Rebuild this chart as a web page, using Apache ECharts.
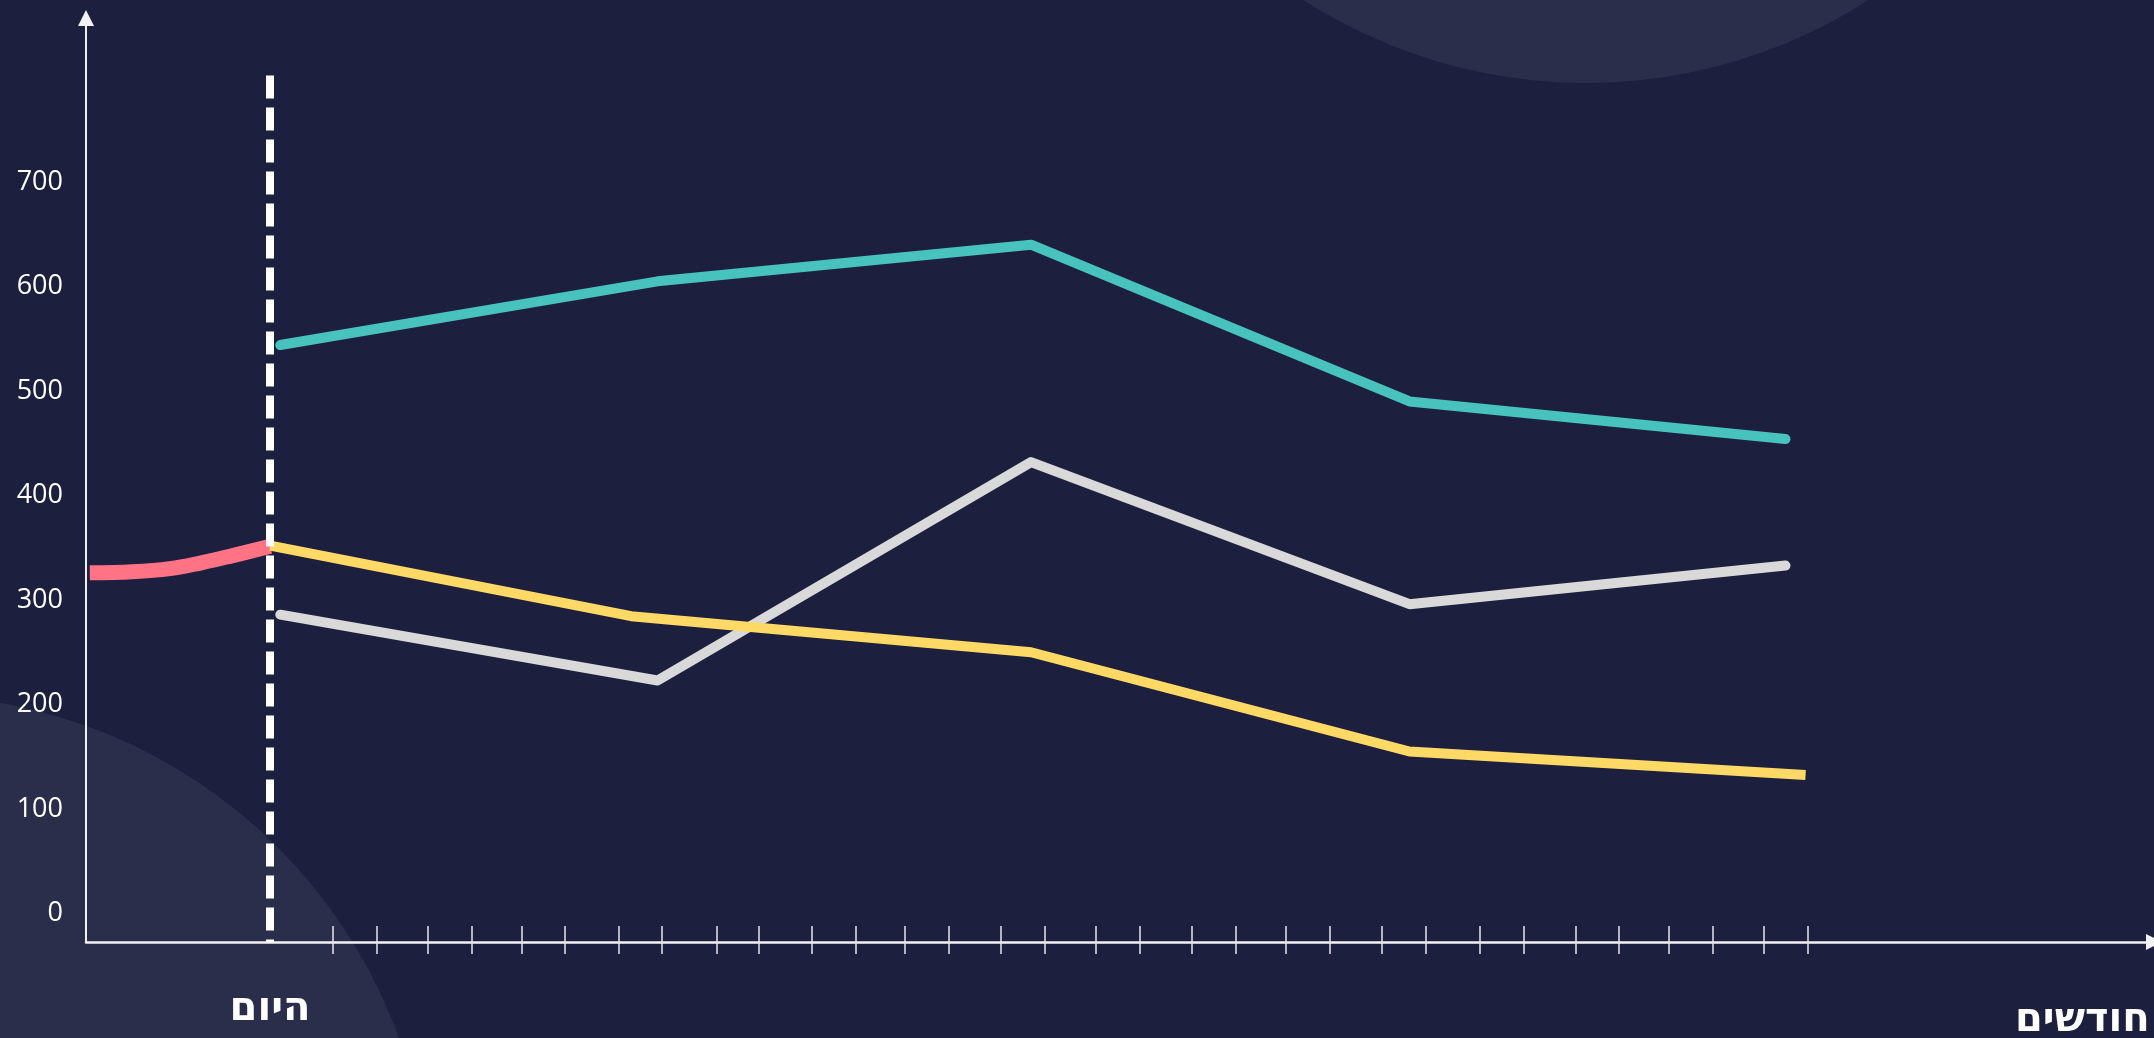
<!DOCTYPE html>
<html>
<head>
<meta charset="utf-8">
<style>
  html, body { margin: 0; padding: 0; background: #1c1f3e; }
  #chart { width: 2154px; height: 1038px; }
</style>
<script src="https://cdn.jsdelivr.net/npm/echarts@6/dist/echarts.min.js"></script>
</head>
<body>
<div id="chart"></div>
<script>
// months from today (today = 0)
var monthsA = [0.08, 3.09, 6.07, 9.09, 12.09];
var teal = [544, 605, 640, 490, 454];
var gray = [286, 223, 432, 296, 333];

var monthsYellow = [0, 2.88, 6.07, 9.09, 12.25];
var yellow = [352, 284.5, 250, 155, 132.5];

var monthsPast = [-1.44, -1.1, -0.8, -0.55, -0.3, 0];
var past = [326, 327, 330, 335.6, 342.5, 351.4];

var yTickLabels = [0, 100, 200, 300, 400, 500, 600, 700];
var xTicks = [0.50, 0.85, 1.26, 1.61, 2.01, 2.35, 2.78, 3.12, 3.56, 3.90, 4.32, 4.67,
  5.06, 5.41, 5.83, 6.18, 6.59, 6.94, 7.35, 7.70, 8.10, 8.45, 8.87, 9.22,
  9.65, 10.00, 10.42, 10.76, 11.16, 11.51, 11.92, 12.27];

var todayLabel = 'היום';
var monthsLabel = 'חודשים';

function pairs(xs, ys) {
  var out = [];
  for (var i = 0; i < xs.length; i++) out.push([xs[i], ys[i]]);
  return out;
}

var chart = echarts.init(document.getElementById('chart'));

var xMin = -1.47, xMax = 15.03;
var yMin = -27.3, yMax = 857;

chart.setOption({
  backgroundColor: '#1c1f3e',
  animation: false,
  grid: { left: 86, top: 18, width: 2072, height: 924, containLabel: false },
  graphic: [
    { type: 'circle', z: -10, silent: true, shape: { cx: 1586, cy: -440, r: 523 }, style: { fill: '#2a2e4b' } },
    { type: 'circle', z: -10, silent: true, shape: { cx: -90, cy: 1215, r: 520 }, style: { fill: '#2a2e4b' } },
    { type: 'text', z: 10, x: 270, y: 1010, style: { text: todayLabel, fill: '#ffffff', font: 'bold 40px "DejaVu Sans", "Open Sans", sans-serif', textAlign: 'center', textVerticalAlign: 'middle' } },
    { type: 'text', z: 10, x: 2015, y: 1021, style: { text: monthsLabel, fill: '#ffffff', font: 'bold 40px "DejaVu Sans", "Open Sans", sans-serif', textAlign: 'left', textVerticalAlign: 'middle' } }
  ],
  xAxis: [
    {
      type: 'value', min: xMin, max: xMax,
      axisLine: { show: true, onZero: false, symbol: ['none', 'triangle'], symbolSize: [16, 16], lineStyle: { color: '#f2f2f5', width: 2.5 } },
      axisTick: { show: false },
      axisLabel: { show: false },
      splitLine: { show: false }
    },
    {
      type: 'value', min: xMin, max: xMax, position: 'bottom', offset: 12,
      axisLine: { show: false, onZero: false },
      axisTick: { show: true, inside: true, length: 28, customValues: xTicks, lineStyle: { color: '#e6e6ec', width: 1.5 } },
      axisLabel: { show: false },
      splitLine: { show: false }
    }
  ],
  yAxis: {
    type: 'value', min: yMin, max: yMax,
    axisLine: { show: true, onZero: false, symbol: ['none', 'triangle'], symbolSize: [16, 16], lineStyle: { color: '#f2f2f5', width: 2 } },
    axisTick: { show: false },
    splitLine: { show: false },
    axisLabel: {
      customValues: yTickLabels,
      color: '#ffffff', fontSize: 27, fontFamily: 'Open Sans', margin: 23
    }
  },
  series: [
    {
      type: 'line', name: 'past', xAxisIndex: 0, data: pairs(monthsPast, past),
      smooth: 0.4, showSymbol: false, z: 3,
      lineStyle: { color: '#ff7385', width: 15, cap: 'butt' }
    },
    {
      type: 'line', name: 'teal', xAxisIndex: 0, data: pairs(monthsA, teal),
      showSymbol: false, z: 3,
      lineStyle: { color: '#48c2bd', width: 10, cap: 'round', join: 'round' }
    },
    {
      type: 'line', name: 'gray', xAxisIndex: 0, data: pairs(monthsA, gray),
      showSymbol: false, z: 3,
      lineStyle: { color: '#d9d9d9', width: 10, cap: 'round', join: 'round' }
    },
    {
      type: 'line', name: 'yellow', xAxisIndex: 0, data: pairs(monthsYellow, yellow),
      showSymbol: false, z: 4,
      lineStyle: { color: '#ffd966', width: 10, cap: 'butt', join: 'round' },
      markLine: {
        silent: true, symbol: ['none', 'none'], z: 6,
        label: { show: false },
        lineStyle: { color: '#ffffff', width: 8, type: [23, 9], opacity: 1 },
        data: [[{ coord: [0, 802] }, { coord: [0, yMin] }]]
      }
    }
  ]
});
</script>
</body>
</html>
